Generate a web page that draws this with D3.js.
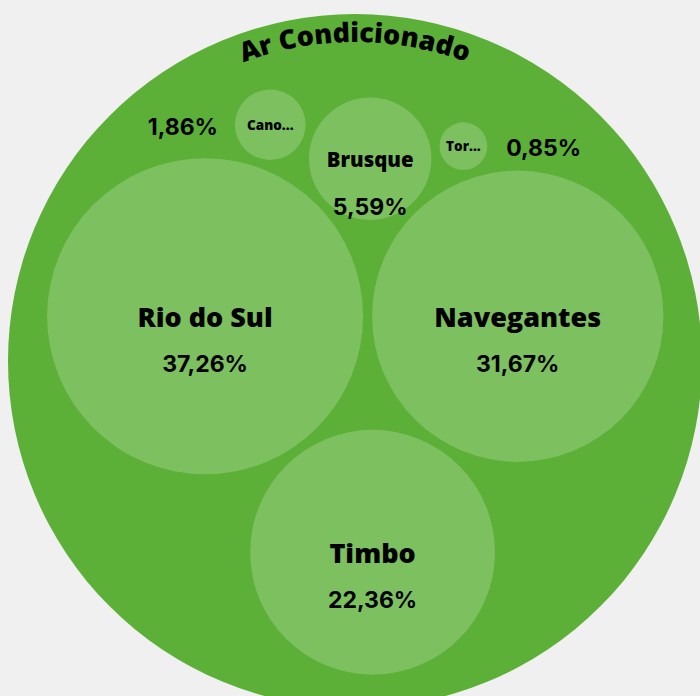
<!DOCTYPE html>
<html><head><meta charset="utf-8">
<script src="https://cdn.jsdelivr.net/npm/d3@7"></script>
<style>html,body{margin:0;padding:0;background:#f0f0f0;overflow:hidden}</style>
</head><body><svg id="chart" width="700" height="696"></svg>
<script>
const title = "Ar Condicionado";
const labels = ["Rio do Sul", "Navegantes", "Timbo", "Brusque", "Cano...", "Tor..."];
const values = [37.26, 31.67, 22.36, 5.59, 1.86, 0.85];
const pctLabels = ["37,26%", "31,67%", "22,36%", "5,59%", "1,86%", "0,85%"];

const W = 700, H = 696;
const CX = 355, CY = 361, R = 347;
const pad = 4.5;
const nameFont = "'Open Sans', sans-serif";
const pctFont = "Inter, sans-serif";

const svg = d3.select("#chart");
const rScale = d3.scaleSqrt().domain([0, d3.max(values)]).range([0, 158]);
const nodes = values.map((v, i) => ({ v, name: labels[i], pct: pctLabels[i], r: rScale(v) + pad }));
d3.packSiblings(nodes);
const enc = d3.packEnclose(nodes);
nodes.forEach(n => { n.r -= pad; n.px = CX + (n.x - enc.x); n.py = CY + (n.y - enc.y); });

svg.append("circle").attr("cx", CX).attr("cy", CY).attr("r", R).attr("fill", "#5cb037");

const defs = svg.append("defs");
const tr = 319;
defs.append("path").attr("id", "titleArc")
  .attr("d", `M ${CX - tr} ${CY} A ${tr} ${tr} 0 0 1 ${CX + tr} ${CY}`);
svg.append("text")
  .attr("font-family", nameFont).attr("font-weight", 800).attr("font-size", 27)
  .attr("fill", "#000")
  .append("textPath").attr("href", "#titleArc").attr("startOffset", "50%")
  .attr("text-anchor", "middle").text(title);

const g = svg.append("g");
g.selectAll("circle.leaf").data(nodes).join("circle").attr("class", "leaf")
  .attr("cx", d => d.px).attr("cy", d => d.py).attr("r", d => d.r)
  .attr("fill", "#7dc05f");

const fs = d => Math.max(13.5, Math.min(27, d.r / 3));
g.selectAll("text.name").data(nodes).join("text").attr("class", "name")
  .attr("x", d => d.px).attr("y", d => d.py)
  .attr("text-anchor", "middle").attr("dominant-baseline", "central")
  .attr("font-family", nameFont).attr("font-weight", 800)
  .attr("font-size", fs).attr("fill", "#000").text(d => d.name);

g.selectAll("text.pct").data(nodes).join("text").attr("class", "pct")
  .attr("x", d => d.r < 45 ? (d.px < CX ? d.px - d.r - 17 : d.px + d.r + 19) : d.px)
  .attr("y", d => d.r < 45 ? d.py + 2 : d.py + 48)
  .attr("text-anchor", d => d.r < 45 ? (d.px < CX ? "end" : "start") : "middle")
  .attr("dominant-baseline", "central")
  .attr("font-family", pctFont).attr("font-weight", 700)
  .attr("font-size", 23).attr("fill", "#000").text(d => d.pct);
</script></body></html>
